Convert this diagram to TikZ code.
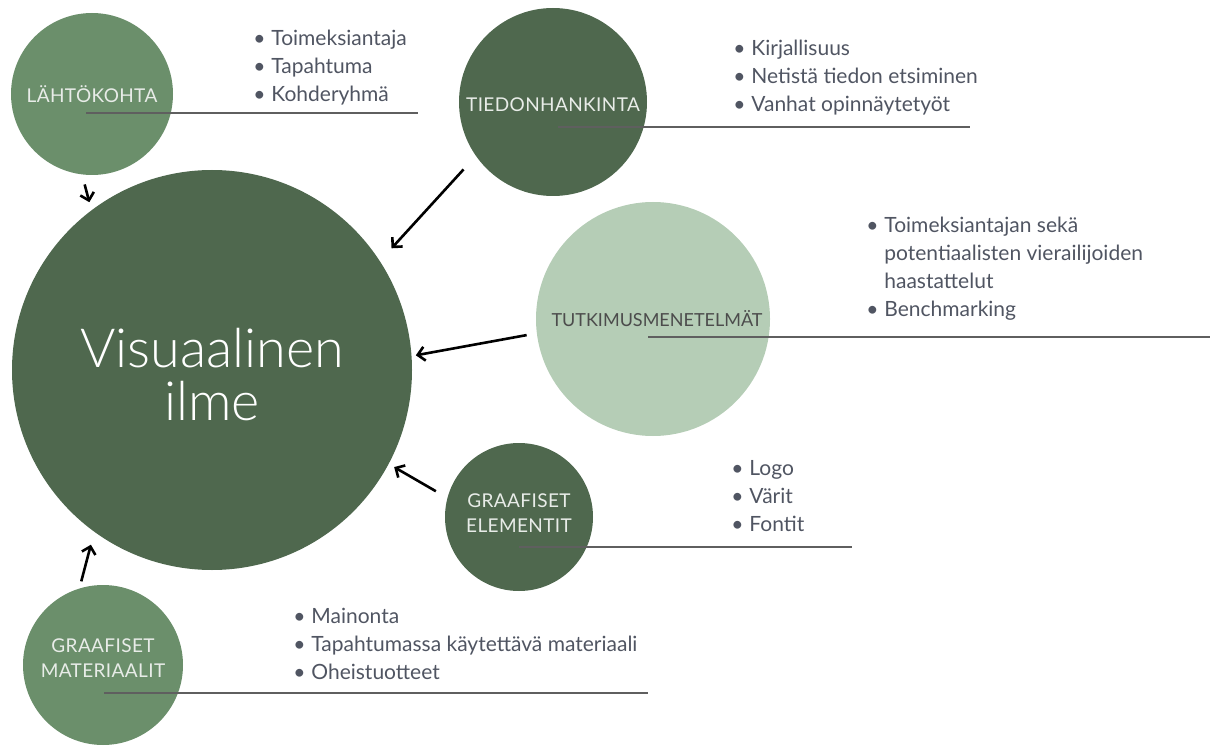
\documentclass[tikz,border=0pt]{standalone}
\usepackage{fontspec}
\setmainfont{Lato}
\newfontfamily\ohut{Lato Light}
\usetikzlibrary{arrows.meta}

\definecolor{tumma}{RGB}{79,104,78}
\definecolor{keski}{RGB}{107,143,107}
\definecolor{vaalea}{RGB}{181,205,182}
\definecolor{teksti}{RGB}{80,85,98}
\definecolor{viiva}{RGB}{95,95,95}
\definecolor{valko}{RGB}{232,236,232}

\newcommand{\pallo}{\makebox[9pt][l]{\textbullet}}
\newcommand{\sisenna}{\hspace*{9pt}}

\tikzset{
  ympyra/.style={circle, minimum size=#1, inner sep=0pt},
  otsikko/.style={align=center, inner sep=0pt, text=valko,
    font=\fontsize{9.5}{12.5}\selectfont\addfontfeatures{LetterSpace=2}},
  lista/.style={anchor=north west, inner sep=0pt, align=left, text=teksti,
    font=\fontsize{10.5}{14}\selectfont},
  nuoli/.style={-{Straight Barb[length=3.5pt,width=7pt]}, line width=1.3pt}
}

\begin{document}
\begin{tikzpicture}[x=0.5pt, y=-0.5pt]
  \useasboundingbox (0,0) rectangle (1211,749);

  % pallot
  \node[ympyra=200pt, fill=tumma] (visu) at (212,370) {};
  \node[ympyra=81pt, fill=keski] (lahto) at (92,94) {};
  \node[ympyra=94pt, fill=tumma] (tiedon) at (553,102) {};
  \node[ympyra=117pt, fill=vaalea] (tutk) at (653,319) {};
  \node[ympyra=74pt, fill=tumma] (elem) at (519,517) {};
  \node[ympyra=80pt, fill=keski] (mater) at (103,665) {};

  % pallojen tekstit
  \node[otsikko, text=white, font=\ohut\fontsize{27}{26.5}\selectfont] (visu-t) at ([yshift=-2.5pt]visu.center) {Visuaalinen\\ilme};
  \node[otsikko] (lahto-t) at (lahto.center) {LÄHTÖKOHTA};
  \node[otsikko] (tiedon-t) at ([yshift=-1.5pt]tiedon.center) {TIEDONHANKINTA};
  \node[otsikko, text=black!70, font=\fontsize{9}{12.5}\selectfont] (tutk-t) at ([xshift=2pt]tutk.center) {TUTKIMUSMENETELMÄT};
  \node[otsikko] (elem-t) at ([yshift=2pt]elem.center) {GRAAFISET\\ELEMENTIT};
  \node[otsikko] (mater-t) at ([yshift=3.5pt]mater.center) {GRAAFISET\\MATERIAALIT};

  % alleviivaukset
  \foreach \x/\y/\e in {86/113/418, 558/127/970, 648/337/1210, 519/547/852, 104/693/648}
    \draw[viiva, line width=0.75pt] (\x,\y) -- (\e,\y);

  % listat
  \node[lista] (l1) at (253,30) {\pallo Toimeksiantaja\\\pallo Tapahtuma\\\pallo Kohderyhmä};
  \node[lista] (l2) at (733,40) {\pallo Kirjallisuus\\\pallo Netistä tiedon etsiminen\\\pallo Vanhat opinnäytetyöt};
  \node[lista] (l3) at (866,217) {\pallo Toimeksiantajan sekä\\\sisenna potentiaalisten vierailijoiden\\\sisenna haastattelut\\\pallo Benchmarking};
  \node[lista] (l4) at (731,460) {\pallo Logo\\\pallo Värit\\\pallo Fontit};
  \node[lista] (l5) at (293,608) {\pallo Mainonta\\\pallo Tapahtumassa käytettävä materiaali\\\pallo Oheistuotteet};

  % nuolet
  \foreach \a/\b/\s/\t in {lahto.263/visu.127/5pt/4pt, tiedon.215/visu.33/9pt/8.5pt,
      tutk.187/visu.4/5pt/2pt, elem.165/visu.332/6.5pt/3pt, mater.107/visu.234/3.5pt/6.5pt}
    \draw[nuoli, shorten <=\s, shorten >=\t] (\a) -- (\b);
\end{tikzpicture}
\end{document}
